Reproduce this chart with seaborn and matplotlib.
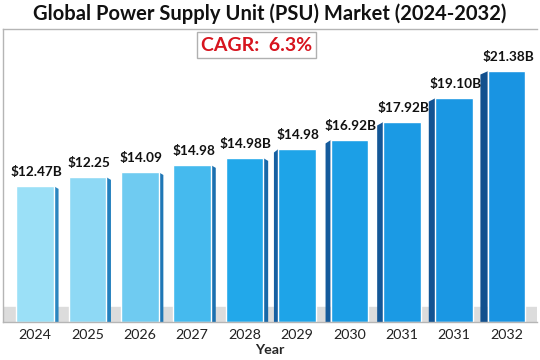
import pandas as pd
import matplotlib.pyplot as plt
from matplotlib.patches import Polygon
import seaborn as sns

# données
years = ["2024", "2025", "2026", "2027", "2028", "2029", "2030", "2031", "2031", "2032"]
heights = [12.47, 13.30, 13.75, 14.40, 15.04, 15.86, 16.69, 18.34, 20.54, 23.02]
labels = ["$12.47B", "$12.25", "$14.09", "$14.98", "$14.98B", "$14.98",
          "$16.92B", "$17.92B", "$19.10B", "$21.38B"]
colors = ["#9be0f7", "#8ed9f5", "#6fcbf1", "#45baee", "#22a8ea",
          "#1ea4e8", "#1c9fe6", "#1b9ae4", "#1a97e3", "#1994e2"]
side_colors = ["#2a86c0", "#2380bd", "#1f77b6", "#1b70b0", "#1868a8",
               "#1660a2", "#155b9c", "#145797", "#135392", "#12508e"]

df = pd.DataFrame({"idx": [str(i) for i in range(len(years))], "height": heights})

sns.set_style("white")
plt.rcParams['font.family'] = ['Lato', 'DejaVu Sans']

fig = plt.figure(figsize=(5.4, 3.6), dpi=100)
ax = fig.add_axes([3 / 540, 38 / 360, 534 / 540, 293 / 360])

# sol gris en 3D
ax.axhspan(0, 1.4, color="#dcdcdc", zorder=0)

sns.barplot(data=df, x="idx", y="height", hue="idx", palette=colors,
            legend=False, width=0.72, saturation=1, ax=ax, zorder=2)

bars = sorted([p for c in ax.containers for p in c], key=lambda p: p.get_x())

# faces latérales sombres (effet 3D)
for i, p in enumerate(bars):
    x0, w, h = p.get_x(), p.get_width(), p.get_height()
    if i < 5:
        d = 0.09
        pts = [(x0 + w, 0), (x0 + w + d, 0), (x0 + w + d, h - 0.25), (x0 + w, h)]
    else:
        d = 0.08 + 0.015 * (i - 5)
        pts = [(x0, 0), (x0 - d, 0), (x0 - d, h - 0.3), (x0, h)]
    ax.add_patch(Polygon(pts, closed=True, color=side_colors[i], zorder=1.9, lw=0))

for i, p in enumerate(bars):
    ax.annotate(labels[i], (p.get_x() + p.get_width() / 2, p.get_height()),
                xytext=(1, 6), textcoords="offset points", ha="center", va="bottom",
                fontsize=9.8, fontweight="bold", color="#111111")

ax.set_xlim(-0.61, 9.58)
ax.set_ylim(0, 26.9)
ax.set_xticks(range(len(years)))
ax.set_xticklabels(years, fontsize=10.3, color="#222222")
ax.tick_params(axis="x", length=0, pad=5)
ax.set_yticks([])
ax.set_ylabel("")
ax.set_xlabel("Year", fontsize=10.3, fontweight="bold", labelpad=2)

for s in ["left", "top", "bottom"]:
    ax.spines[s].set_color("#b5b5b5")
    ax.spines[s].set_linewidth(1)
ax.spines["right"].set_visible(False)

fig.text(0.5, 0.962, "Global Power Supply Unit (PSU) Market (2024-2032)",
         ha="center", va="center", fontsize=14.5, fontweight="bold", color="#111111")

ax.text(0.475, 0.945, "CAGR:  6.3%", transform=ax.transAxes, ha="center", va="center",
        fontsize=14, fontweight="bold", color="#d7141e",
        bbox=dict(boxstyle="square,pad=0.22", fc="white", ec="#b0b0b0", lw=1))

plt.savefig("out.png", dpi=100)
plt.close()
